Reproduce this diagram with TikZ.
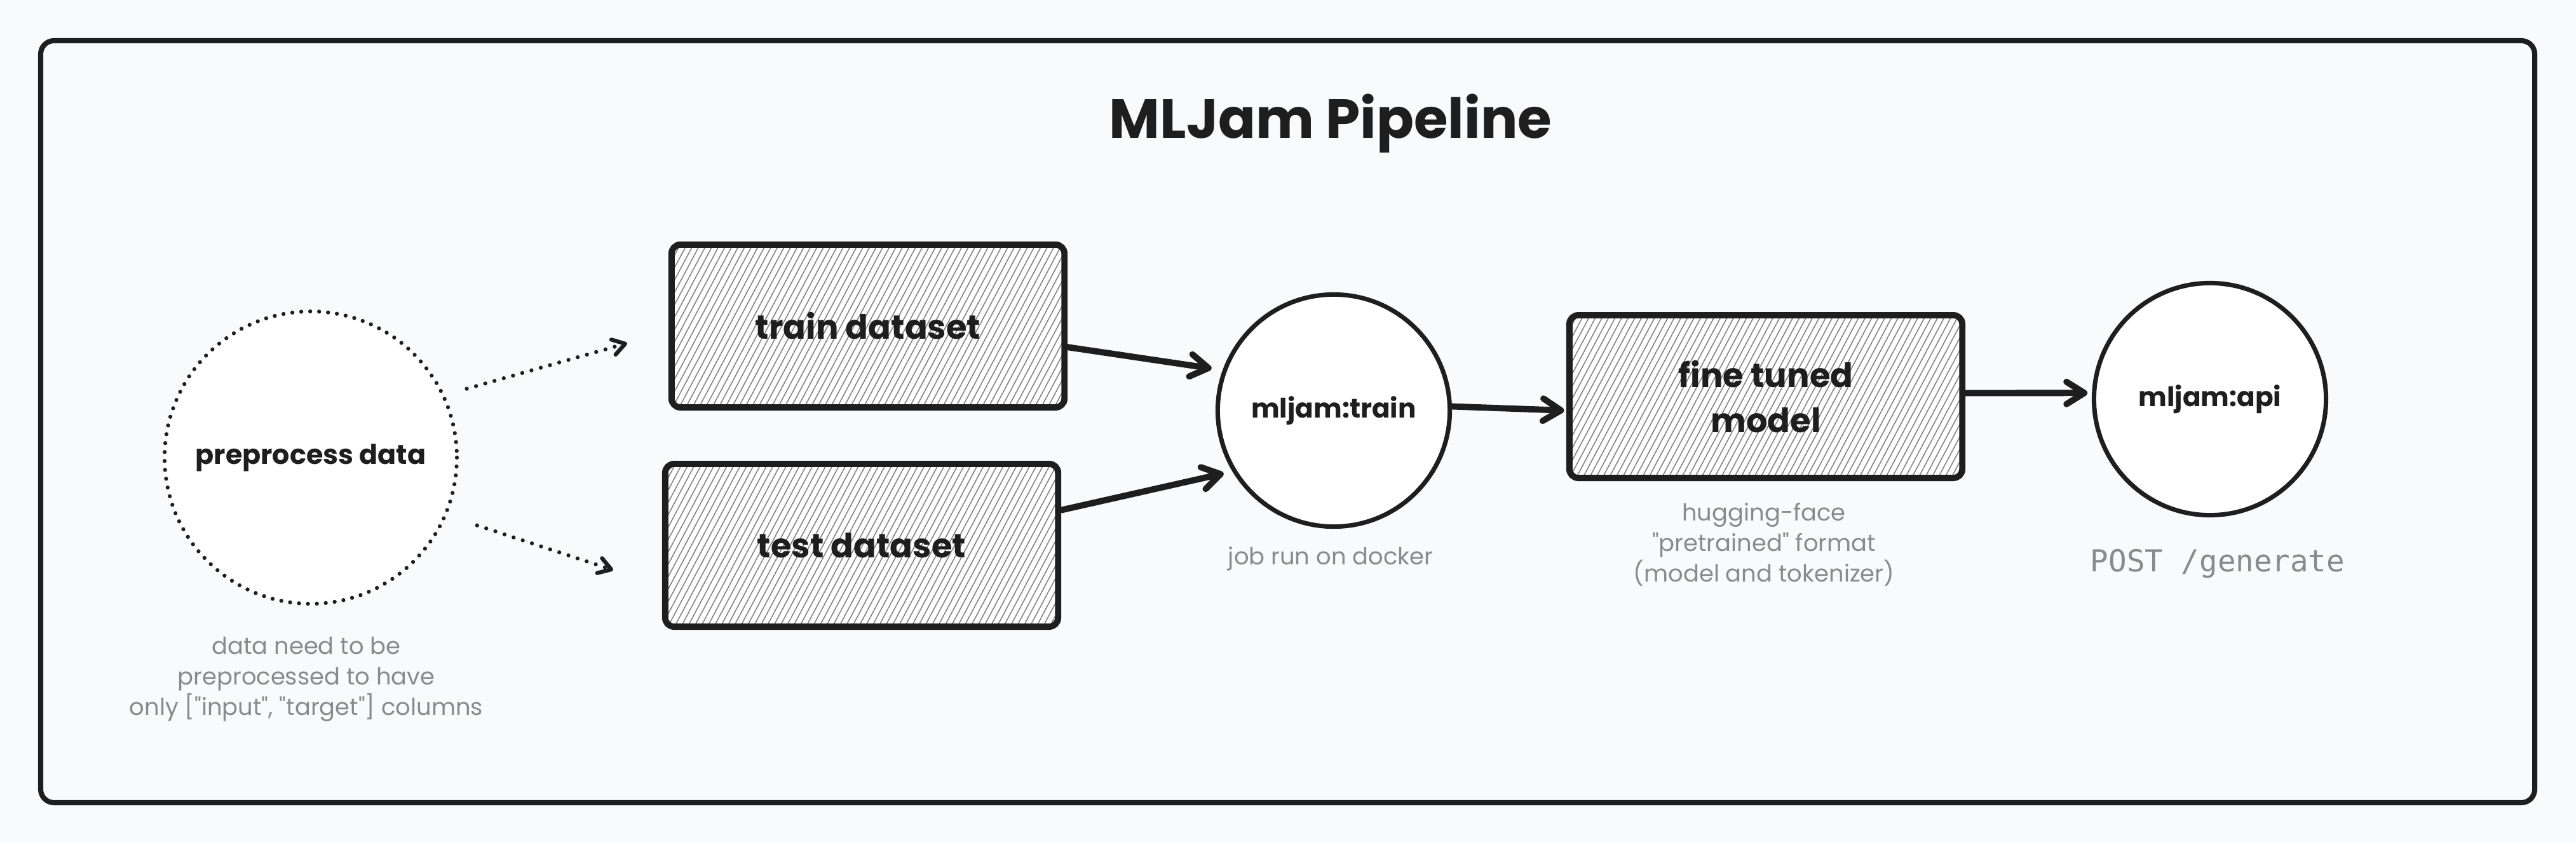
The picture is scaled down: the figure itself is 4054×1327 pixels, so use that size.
\documentclass[tikz,border=0pt]{standalone}
\usepackage{fontspec}
\setmainfont{Poppins}
\setmonofont{DejaVu Sans Mono}
\newfontfamily\notefont{Poppins}
\usetikzlibrary{arrows.meta, patterns.meta, positioning}
\definecolor{canvas}{RGB}{249,250,252}
\definecolor{ink}{RGB}{30,30,30}
\definecolor{notegray}{RGB}{138,138,138}
\definecolor{hatch}{RGB}{130,130,130}

\begin{document}
\begin{tikzpicture}[
    x=0.01cm, y=-0.01cm,
    dataset/.style={draw=ink, line width=2.8pt, rounded corners=4pt, minimum width=6.18cm, minimum height=2.56cm,
        align=center, font=\fontsize{15}{20}\selectfont\bfseries, text=ink,
        preaction={fill=white}, pattern={Lines[angle=62, distance=2.6pt, line width=0.45pt]}, pattern color=hatch},
    job/.style={circle, draw=ink, line width=2pt, fill=white, minimum size=3.65cm, inner sep=0pt,
        font=\fontsize{12}{14}\selectfont\bfseries, text=ink},
    note/.style={align=center, font=\notefont\fontsize{10.5}{13.6}\selectfont, text=notegray},
    flow/.style={draw=ink, line width=2.8pt, line cap=round, -{Straight Barb[length=8pt, width=10pt, round]}},
    feed/.style={draw=ink, line width=1.8pt, line cap=round, dash pattern=on 0pt off 4.3pt,
        -{Straight Barb[length=5.5pt, width=7pt, round]}}
]

% Canvas and frame
\path[use as bounding box, fill=canvas] (0,0) rectangle (4054,1327);
\draw[ink, line width=2.3pt, rounded corners=6pt] (64,64) rectangle (3989,1263);

% Title
\node[font=\fontsize{24.7}{30}\selectfont\bfseries, text=ink] (title) at (2094,194) {MLJam Pipeline};

% Input data
\node[job, draw=none, minimum size=4.6cm, font=\fontsize{12.2}{15}\selectfont\bfseries] (prep) at (489,720) {preprocess data};
\draw[ink, line width=1.8pt, line cap=round, dash pattern=on 0pt off 4pt] (prep) circle (230);
\node[note] (prepnote) at (482,1069) {data need to be\\preprocessed to have\\only ["input", "target"] columns};

% Datasets
\node[dataset] (trainset) at (1366,513) {train dataset};
\node[dataset] (testset) at (1356,858) {test dataset};

% Training job
\node[job] (trainjob) at (2099,646) {mljam:train};
\node[note] (jobnote) at (2094,879) {job run on docker};

% Model
\node[dataset] (model) at (2779,624) {fine tuned\\model};
\node[note] (modelnote) at (2776,857) {hugging-face\\"pretrained" format\\(model and tokenizer)};

% Serving
\node[job] (api) at (3478,628) {mljam:api};
\node[note, font=\fontsize{13.5}{16}\selectfont\ttfamily] (apinote) at (3490,887) {POST /generate};

% Dotted feeds into the datasets
\coordinate (trainin) at (987,540);
\coordinate (testin) at (965,897);
\draw[feed, shorten <=10pt] (prep.25) -- (trainin);
\draw[feed, shorten <=14pt] (prep.-23) -- (testin);

% Flow arrows
\draw[flow, shorten >=5pt] (trainset.-6) -- (trainjob.160);
\draw[flow, shorten >=4pt] (testset.10) -- (trainjob.211);
\draw[flow, shorten >=1pt] (trainjob.2) -- (model.184);
\draw[flow, shorten >=2pt] (model.1) -- (api.177);

\end{tikzpicture}
\end{document}
